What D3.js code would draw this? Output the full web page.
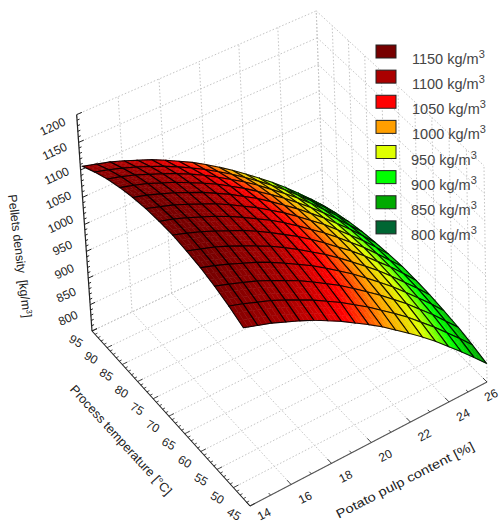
<!DOCTYPE html>
<html>
<head>
<meta charset="utf-8">
<script src="https://cdn.jsdelivr.net/npm/d3@7"></script>
<style>
  html, body { margin: 0; padding: 0; background: #fff; overflow: hidden; }
  text { font-family: "Liberation Sans", Arial, sans-serif; }
</style>
</head>
<body>
<div id="chart"></div>
<script>
let potato = [14.1,14.76,15.42,16.08,16.74,17.41,18.07,18.73,19.39,20.05,20.71,21.37,22.03,22.7,23.36,24.02,24.68,25.34,26];
let temperature = [45,49.17,53.33,57.5,61.67,65.83,70,74.17,78.33,82.5,86.67,90.83,95];

// one row per temperature, one column per potato pulp content
let density = [
  [1120,1112,1104,1094,1084,1073,1060,1047,1032,1017,1001,983,965,946,926,904,882,859,835],
  [1132,1124,1115,1106,1095,1083,1071,1057,1043,1027,1011,993,975,956,935,914,891,868,844],
  [1141,1133,1124,1115,1104,1092,1080,1066,1051,1036,1019,1001,983,963,943,921,899,875,851],
  [1148,1140,1131,1121,1111,1099,1086,1072,1058,1042,1025,1008,989,969,949,927,904,881,856],
  [1152,1144,1136,1126,1115,1103,1091,1077,1062,1046,1030,1012,993,973,953,931,908,885,860],
  [1155,1147,1138,1128,1117,1106,1093,1079,1064,1049,1032,1014,995,976,955,933,911,887,862],
  [1154,1147,1138,1128,1118,1106,1093,1079,1065,1049,1032,1014,996,976,955,934,911,887,863],
  [1152,1144,1136,1126,1115,1104,1091,1077,1063,1047,1031,1013,994,975,954,932,910,886,861],
  [1147,1140,1131,1122,1111,1100,1087,1074,1059,1044,1027,1009,991,971,951,929,907,883,858],
  [1140,1133,1125,1115,1105,1093,1081,1068,1053,1038,1021,1004,986,966,946,924,902,878,854],
  [1131,1124,1116,1106,1096,1085,1073,1060,1045,1030,1014,997,978,959,939,918,895,872,848],
  [1119,1112,1104,1095,1085,1074,1062,1049,1035,1020,1004,987,969,950,930,909,887,864,840],
  [1105,1098,1091,1082,1072,1062,1050,1037,1024,1009,993,976,958,939,920,899,877,854,830]
];

let potato_ticks = [14,16,18,20,22,24,26];
let temperature_ticks = [45,50,55,60,65,70,75,80,85,90,95];
let density_ticks = [800,850,900,950,1000,1050,1100,1150,1200];

let legend_levels = [1150,1100,1050,1000,950,900,850,800];
let legend_colors = ['#770000','#aa0000','#ff0000','#ff9f00','#dfff00','#00ff00','#00aa00','#006633'];

let chart_width = 501;
let chart_height = 524;

let svg = d3.select('#chart')
    .append('svg')
    .attr('width', chart_width)
    .attr('height', chart_height);

let x_scale = d3.scaleLinear().domain([14, 26]).range([0, 1]);
let t_scale = d3.scaleLinear().domain([45, 95]).range([0, 1]);
let z_scale = d3.scaleLinear().domain([800, 1200]).range([0, 1]);

// the surface runs a little darker than the legend boxes
let color_scale = d3.scaleLinear()
    .domain(legend_levels.map(function(d) { return d - 8; }))
    .range(legend_colors)
    .clamp(true);

// Perspective box: corner at (14, 45, 800) and the three edges leaving it
let origin = [250, 506];
let edge_x = [487, 382];
let edge_t = [92, 331];
let edge_z = [239, 283];
let persp = [0.0481, 0.0555, -0.032];

function column(end, w, i) {
    return (w + 1) * end[i] - origin[i];
}

function project(x, t, z) {
    let u = x_scale(x), v = t_scale(t), h = z_scale(z);
    let d = 1 + persp[0] * u + persp[1] * v + persp[2] * h;
    return [0, 1].map(function(i) {
        return (origin[i] + column(edge_x, persp[0], i) * u + column(edge_t, persp[1], i) * v + column(edge_z, persp[2], i) * h) / d;
    });
}

let line = d3.line();

function seg(a, b) {
    return line([project(a[0], a[1], a[2]), project(b[0], b[1], b[2])]);
}

// Dotted grid on the floor and the two back walls
let grid = [];
potato_ticks.forEach(function(x) {
    grid.push([[x, 45, 800], [x, 95, 800]]);
    grid.push([[x, 95, 800], [x, 95, 1200]]);
});
temperature_ticks.forEach(function(t) {
    grid.push([[14, t, 800], [26, t, 800]]);
    grid.push([[26, t, 800], [26, t, 1200]]);
});
density_ticks.forEach(function(z) {
    grid.push([[14, 95, z], [26, 95, z]]);
    grid.push([[26, 95, z], [26, 45, z]]);
});

svg.append('g').selectAll('path')
    .data(grid)
    .enter()
    .append('path')
    .attr('d', function(d) { return seg(d[0], d[1]); })
    .attr('fill', 'none')
    .attr('stroke', '#c4c4c4')
    .attr('stroke-width', 1)
    .attr('stroke-dasharray', '1.5,2');

// Surface cells, far ones first
let cells = [];
d3.range(temperature.length - 1).forEach(function(j) {
    d3.range(potato.length - 1).forEach(function(k) {
        cells.push({ j: j, k: k });
    });
});
cells.sort(function(a, b) {
    return d3.descending(
        persp[0] * x_scale(potato[a.k]) + persp[1] * t_scale(temperature[a.j]),
        persp[0] * x_scale(potato[b.k]) + persp[1] * t_scale(temperature[b.j])
    );
});

function corner(c, a, b) {
    // a, b run 0..1 inside the cell
    let x = potato[c.k] + a * (potato[c.k + 1] - potato[c.k]);
    let t = temperature[c.j] + b * (temperature[c.j + 1] - temperature[c.j]);
    let z = (1 - b) * ((1 - a) * density[c.j][c.k] + a * density[c.j][c.k + 1])
          + b * ((1 - a) * density[c.j + 1][c.k] + a * density[c.j + 1][c.k + 1]);
    return [x, t, z];
}

let steps = 3;
let surface = svg.append('g');

cells.forEach(function(c) {
    let g = surface.append('g');
    d3.range(steps).forEach(function(p) {
        d3.range(steps).forEach(function(q) {
            let pts = [[p, q], [p + 1, q], [p + 1, q + 1], [p, q + 1]].map(function(s) {
                return corner(c, s[0] / steps, s[1] / steps);
            });
            let col = color_scale(d3.mean(pts, function(s) { return s[2]; }));
            g.append('path')
                .attr('d', line(pts.map(function(s) { return project(s[0], s[1], s[2]); })) + 'Z')
                .attr('fill', col)
                .attr('stroke', col)
                .attr('stroke-width', 0.5);
        });
    });
    let outline = [[0, 0], [1, 0], [1, 1], [0, 1]].map(function(s) {
        let v = corner(c, s[0], s[1]);
        return project(v[0], v[1], v[2]);
    });
    g.append('path')
        .attr('d', line(outline) + 'Z')
        .attr('fill', 'none')
        .attr('stroke', '#000')
        .attr('stroke-opacity', 0.9)
        .attr('stroke-width', 1.1);
});

// Axes
let axes = svg.append('g')
    .attr('fill', 'none')
    .attr('stroke', '#222');

axes.append('path').attr('d', seg([14, 95, 800], [14, 95, 1200])).attr('stroke-width', 1.2);
axes.append('path').attr('d', seg([14, 45, 800], [14, 95, 800])).attr('stroke-width', 1.1);
axes.append('path').attr('d', seg([14, 45, 800], [26, 45, 800])).attr('stroke-width', 1.1).attr('stroke', '#555');

d3.range(800, 1201, 10).forEach(function(z) {
    let len = z % 50 == 0 ? 0.25 : 0.12;
    axes.append('path').attr('d', seg([14, 95, z], [14 + len, 95, z])).attr('stroke-width', 1);
});
d3.range(45, 96, 1).forEach(function(t) {
    let len = t % 5 == 0 ? 0.25 : 0.12;
    axes.append('path').attr('d', seg([14, t, 800], [14 + len, t, 800])).attr('stroke-width', 0.8);
});
d3.range(14, 27, 1).forEach(function(x) {
    let len = x % 2 == 0 ? 1.2 : 0.6;
    axes.append('path').attr('d', seg([x, 45, 800], [x, 45 + len, 800])).attr('stroke-width', 0.8);
});

// Tick labels sit off the axis, the density ones closing in towards the middle
let z_label_dy = d3.scaleLinear().domain([800, 1200]).range([-13, 12]);

function tickLabel(txt, pos, angle) {
    svg.append('text')
        .text(txt)
        .attr('transform', 'translate(' + pos[0] + ',' + pos[1] + ') rotate(' + angle + ')')
        .attr('text-anchor', 'middle')
        .attr('dy', '0.35em')
        .attr('font-size', 12)
        .attr('fill', '#222');
}

density_ticks.forEach(function(z) {
    let p = project(14, 95, z);
    tickLabel(z, [p[0] - 24, p[1] + z_label_dy(z)], -25);
});
temperature_ticks.forEach(function(t) {
    let p = project(14, t, 800);
    tickLabel(t, [p[0] - 16, Math.min(p[1] + 10, 514)], 30);
});
potato_ticks.forEach(function(x) {
    let p = project(x, 45, 800);
    tickLabel(x, [Math.min(p[0] + 14, 491), Math.min(p[1] + 13, 514)], -27);
});

// Axis titles
function axisTitle(pos, angle, len) {
    return svg.append('text')
        .attr('transform', 'translate(' + pos[0] + ',' + pos[1] + ') rotate(' + angle + ')')
        .attr('text-anchor', 'middle')
        .attr('dy', '0.35em')
        .attr('font-size', 12.5)
        .attr('fill', '#222')
        .attr('textLength', len)
        .attr('lengthAdjust', 'spacingAndGlyphs');
}

axisTitle([121, 440], 47.5, 144).text('Process temperature [°C]');
axisTitle([405, 480], -27, 153).text('Potato pulp content [%]');

let z_title = axisTitle([20, 256], 83, 124);
z_title.append('tspan').text('Pellets density\u00a0\u00a0[kg/m');
z_title.append('tspan').text('3').attr('font-size', 8).attr('dy', -4);
z_title.append('tspan').text(']').attr('dy', 4);

// Legend
let legend_y = d3.scaleBand()
    .domain(legend_levels)
    .range([45, 246]);

let legend = svg.append('g').selectAll('g')
    .data(legend_levels)
    .enter()
    .append('g')
    .attr('transform', function(d) {
        return 'translate(0,' + legend_y(d) + ')';
    });

legend.append('rect')
    .attr('x', 376)
    .attr('y', 0)
    .attr('width', 20)
    .attr('height', 13)
    .attr('fill', function(d, i) { return legend_colors[i]; })
    .attr('stroke', '#222')
    .attr('stroke-width', 1);

let legend_text = legend.append('text')
    .attr('x', function(d) { return d >= 1000 ? 412 : 411; })
    .attr('y', 19)
    .attr('font-size', 14.5)
    .attr('fill', '#444');

legend_text.append('tspan').text(function(d) { return d + ' kg/m'; });
legend_text.append('tspan').text('3').attr('font-size', 11).attr('dy', -6);
</script>
</body>
</html>
